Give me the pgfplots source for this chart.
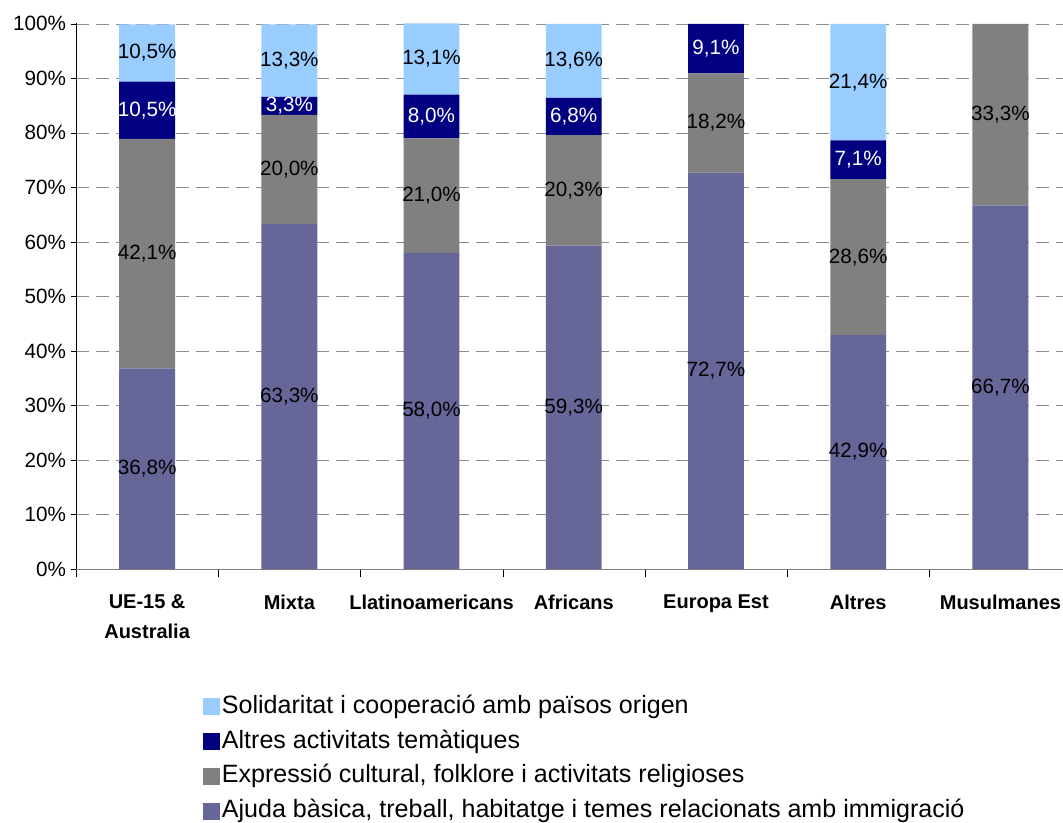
\documentclass[border=0pt]{standalone}
\usepackage{pgfplots}
\pgfplotsset{compat=1.18}
\usepackage{fontspec}
\setmainfont{Liberation Sans}
\definecolor{cA}{HTML}{666699}
\definecolor{cB}{HTML}{808080}
\definecolor{cC}{HTML}{000080}
\definecolor{cD}{HTML}{99CCFF}
\pgfplotsset{sqlegend/.style={legend image code/.code={\fill[##1,draw=none] (0pt,-6pt) rectangle (12.5pt,6.5pt);}}}
\begin{document}
\begin{tikzpicture}
\begin{axis}[
  at={(57pt,189.75pt)}, anchor=south west,
  scale only axis, width=740.25pt, height=409.5pt,
  ybar stacked, bar width=0.393,
  xmin=-0.5, xmax=6.44, ymin=0, ymax=100.15,
  axis x line*=bottom, axis y line*=left,
  x axis line style={draw=black!50, -},
  y axis line style={draw=black, -},
  xtick={0,...,6},
  xticklabels={{UE-15 \&\\Australia},Mixta,Llatinoamericans,Africans,Europa Est,Altres,Musulmanes},
  xticklabel style={font=\fontsize{15}{22.5}\selectfont\bfseries, align=center, anchor=north, yshift=-12pt},
  every major x tick/.append style={draw=none},
  minor xtick={-0.5,0.5,1.5,2.5,3.5,4.5,5.5},
  every minor x tick/.append style={draw=black},
  tick align=outside,
  minor tick length=6pt,
  major tick length=4pt,
  ytick={0,10,...,100},
  yticklabels={0\%,10\%,20\%,30\%,40\%,50\%,60\%,70\%,80\%,90\%,100\%},
  yticklabel style={font=\fontsize{15.5}{18}\selectfont},
  ytick style={draw=black},
  ymajorgrids,
  major grid style={draw=black!45, dash pattern=on 10pt off 5pt},
  nodes near coords,
  point meta=explicit symbolic,
  nodes near coords style={text=black, anchor=center, font=\fontsize{15.5}{18}\selectfont},
  legend style={at={(0.1287,-0.2317)}, anchor=north west, draw=none, fill=none, inner sep=0pt,
    font=\fontsize{18.8}{20}\selectfont, cells={anchor=west},
    nodes={text height=13pt, text depth=4pt, inner ysep=0pt, inner xsep=1.5pt}, row sep=9.2pt},
  reverse legend,
]
\addplot[fill=cA, draw=none, sqlegend] coordinates {
  (0,36.8) [36,8\%] (1,63.3) [63,3\%] (2,58.0) [58,0\%] (3,59.3) [59,3\%]
  (4,72.7) [72,7\%] (5,42.9) [42,9\%] (6,66.7) [66,7\%]};
\addlegendentry{Ajuda bàsica, treball, habitatge i temes relacionats amb immigració}
\addplot[fill=cB, draw=none, sqlegend] coordinates {
  (0,42.1) [42,1\%] (1,20.0) [20,0\%] (2,21.0) [21,0\%] (3,20.3) [20,3\%]
  (4,18.2) [18,2\%] (5,28.6) [28,6\%] (6,33.3) [33,3\%]};
\addlegendentry{Expressió cultural, folklore i activitats religioses}
\addplot[fill=cC, draw=none, sqlegend, every node near coord/.append style={text=white}] coordinates {
  (0,10.5) [10,5\%] (1,3.3) [3,3\%] (2,8.0) [8,0\%] (3,6.8) [6,8\%]
  (4,9.1) [9,1\%] (5,7.1) [7,1\%] (6,0) [{}]};
\addlegendentry{Altres activitats temàtiques}
\addplot[fill=cD, draw=none, sqlegend] coordinates {
  (0,10.5) [10,5\%] (1,13.3) [13,3\%] (2,13.1) [13,1\%] (3,13.6) [13,6\%]
  (4,0) [{}] (5,21.4) [21,4\%] (6,0) [{}]};
\addlegendentry{Solidaritat i cooperació amb països origen}
\end{axis}
\pgfresetboundingbox
\useasboundingbox (0,0) rectangle (797.25pt,616.5pt);
\end{tikzpicture}
\end{document}
